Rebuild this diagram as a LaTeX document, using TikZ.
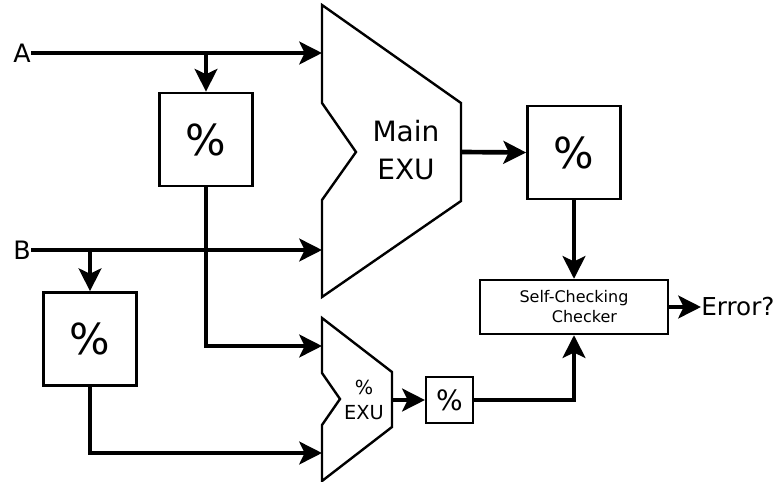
\documentclass[tikz,border=0pt]{standalone}
\usepackage{fontspec}
\setmainfont{DejaVu Sans}
\usetikzlibrary{arrows.meta}

\begin{document}
\begin{tikzpicture}[
  x=0.75pt, y=-0.75pt,
  box/.style={draw, line width=1.8pt, inner sep=0pt, minimum width=70pt, minimum height=70pt, font=\fontsize{32}{36}\selectfont},
  smallbox/.style={draw, line width=1.8pt, inner sep=0pt, minimum width=35pt, minimum height=34.5pt, font=\fontsize{21}{24}\selectfont},
  exu/.style={draw, line width=1.8pt, miter limit=10},
  port/.style={inner sep=0pt, font=\fontsize{19}{22}\selectfont},
  arr/.style={line width=3.5pt, -{Stealth[length=17pt, width=17pt, inset=4pt]}}
]
\useasboundingbox (0,0) rectangle (779,482);

% execution units
\draw[exu] (322,5) -- (461,103) -- (461,201) -- (322,297) -- (322,200)
  -- (356,152) -- (322,103) -- cycle;
\node[align=center, font=\fontsize{21}{28}\selectfont] (mainlbl) at (406,150) {Main\\EXU};
\draw[exu] (322,318) -- (392,372) -- (392,427) -- (322,481) -- (322,425)
  -- (340,399) -- (322,373) -- cycle;
\node[align=center, font=\fontsize{14.5}{19}\selectfont] (pexulbl) at (364,400) {\%\\EXU};

\coordinate (mainA) at (322,53);
\coordinate (mainB) at (322,250);
\coordinate (mainout) at (461,152);
\coordinate (pexuA) at (322,346);
\coordinate (pexuB) at (322,453);
\coordinate (pexuout) at (392,400);

% inputs
\node[port, anchor=east] (A) at (31,53) {A};
\node[port, anchor=east] (B) at (31,250) {B};
\coordinate (Asplit) at (206,53);
\coordinate (Bsplit) at (90,250);

\node[box] (pctA) at (206,139.5) {\%};
\node[box] (pctB) at (90,339) {\%};
\node[box] (pctout) at (574,152.5) {\%};
\node[smallbox] (pctsmall) at (449.5,400) {\%};

\node[draw, line width=1.8pt, minimum width=141pt, minimum height=40.5pt, align=center,
  font=\fontsize{12}{15}\selectfont] (checker) at (574,307) {Self-Checking\\\hspace*{1.3em}Checker};
\node[anchor=west, inner sep=0pt, font=\fontsize{18.5}{21}\selectfont] (err) at (701,307) {Error?};

% connections
\draw[arr] (A.east) -- (mainA);
\draw[arr] (Asplit) -- (pctA.north);
\draw[arr] (B.east) -- (mainB);
\draw[arr] (Bsplit) -- (pctB.north);
\draw[arr] (pctA.south) |- (pexuA);
\draw[arr] (pctB.south) |- (pexuB);
\draw[arr] (mainout) -- (pctout.west);
\draw[arr] (pctout.south) -- (checker.north);
\draw[arr] (pexuout) -- (pctsmall.west);
\draw[arr] (pctsmall.east) -| (checker.south);
\draw[arr] (checker.east) -- (err.west);

\end{tikzpicture}
\end{document}
